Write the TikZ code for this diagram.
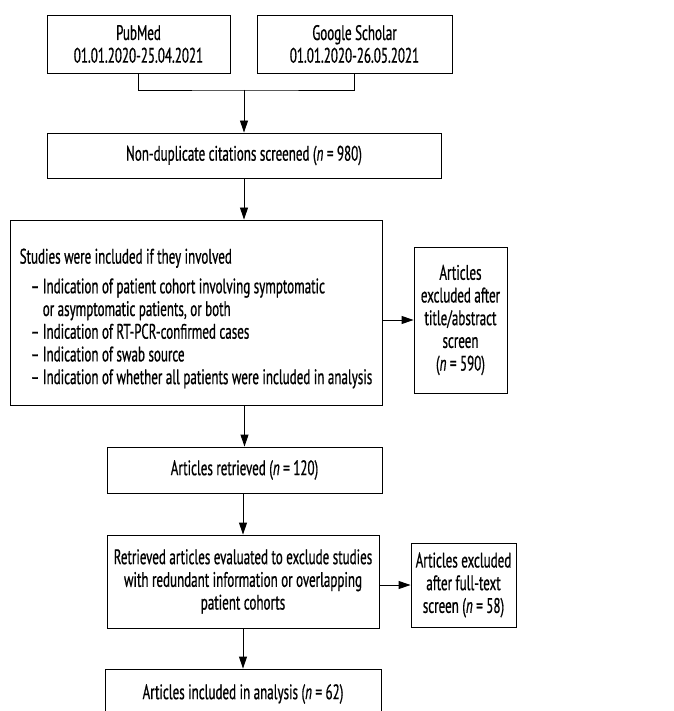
\documentclass[tikz,border=0pt]{standalone}
\usepackage{fontspec}
\setmainfont[FakeStretch=0.62, FakeBold=0.7]{PT Sans}
\usetikzlibrary{arrows.meta}
\usetikzlibrary{positioning}

\tikzset{
	box/.style={draw, line width=0.9pt, align=center, inner sep=3pt, font=\fontsize{21}{22.7}\selectfont},
	arr/.style={-{Triangle[length=12pt,width=8pt]}, line width=0.9pt},
	link/.style={line width=0.9pt}
}
\newcommand{\ncount}[1]{(\textit{n}\,=\,#1)}

\begin{document}
\begin{tikzpicture}
	[x=1pt, y=1pt]
	\useasboundingbox (0,0) rectangle (673,-711);
	% sources
	\node[box, minimum width=183pt, minimum height=58pt] (pubmed) at (138.5,-44) {PubMed\\01.01.2020-25.04.2021};
	\node[box, minimum width=195pt, minimum height=58pt] (scholar) at (354.5,-44) {Google Scholar\\01.01.2020-26.05.2021};
	\node[box, minimum width=394pt, minimum height=45pt] (screened) at (244,-155.5) {Non-duplicate citations screened \ncount{980}};
	% criteria
	\node[box, align=left, minimum width=372pt, minimum height=185pt] (criteria) at (196,-312.5) {\rule{0pt}{27pt}Studies were included if they involved\\[7pt]
		\hspace*{11pt}– Indication of patient cohort involving symptomatic\\
		\hspace*{11pt}\phantom{– }or asymptomatic patients, or both\\
		\hspace*{11pt}– Indication of RT-PCR-confirmed cases\\
		\hspace*{11pt}– Indication of swab source\\
		\hspace*{11pt}– Indication of whether all patients were included in analysis};
	\node[box, minimum width=93pt, minimum height=146pt] (excla) at (460.5,-320) {Articles\\excluded after\\title/abstract\\screen\\\ncount{590}};
	\node[box, minimum width=275pt, minimum height=46pt] (retrieved) at (244.5,-470) {Articles retrieved \ncount{120}};
	\node[box, minimum width=272pt, minimum height=93pt] (evaluated) at (243,-581.5) {Retrieved articles evaluated to exclude studies\\with redundant information or overlapping\\patient cohorts};
	\node[box, minimum width=105pt, minimum height=84pt] (exclb) at (463.5,-585) {Articles excluded\\after full-text\\screen \ncount{58}};
	\node[box, minimum width=276pt, minimum height=50pt] (included) at (243,-694) {Articles included in analysis \ncount{62}};
	% connectors
	\coordinate (join) at (244,-90);
	\draw[link] (pubmed.south) |- (join) -| (scholar.south);
	\draw[arr] (join) -- (screened.north);
	\draw[arr] (screened.south) -- (screened.south |- criteria.north);
	\draw[arr] (criteria.east |- excla.west) -- (excla.west);
	\draw[arr] (criteria.south -| retrieved.north) -- (retrieved.north);
	\draw[arr] (retrieved.south) -- (retrieved.south -| evaluated.north) -- (evaluated.north);
	\draw[arr] (evaluated.east |- exclb.west) -- (exclb.west);
	\draw[arr] (evaluated.south) -- (included.north);
\end{tikzpicture}
\end{document}
